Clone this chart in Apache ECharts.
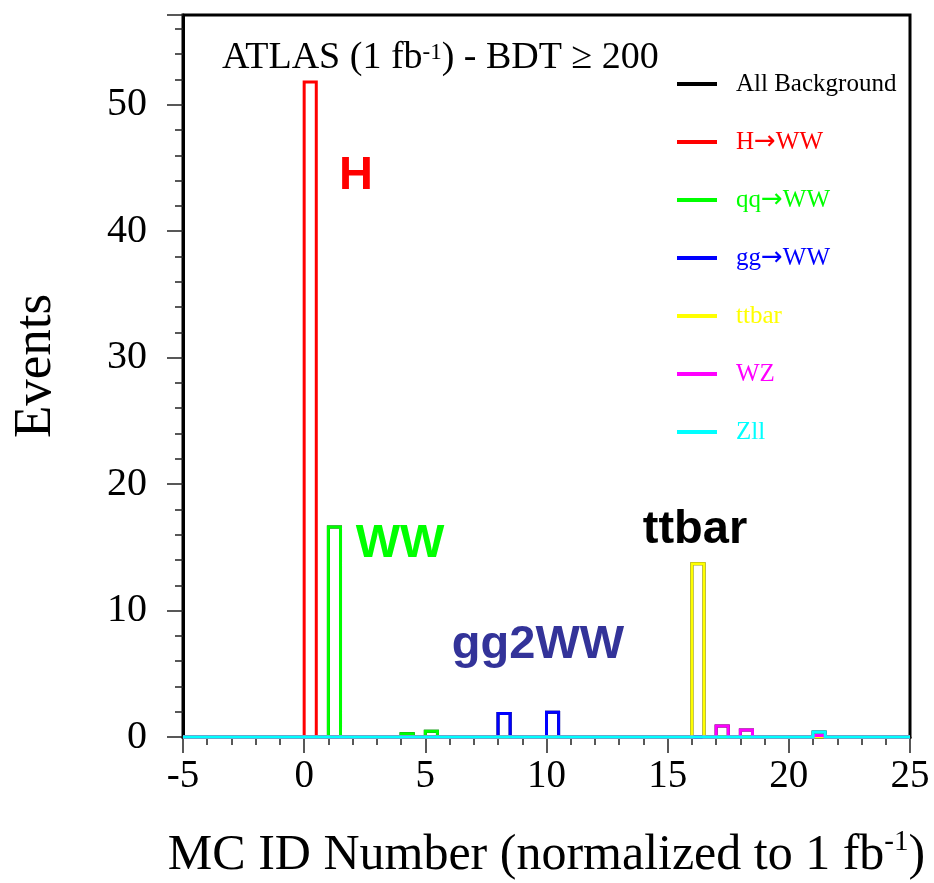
<!DOCTYPE html>
<html>
<head>
<meta charset="utf-8">
<script src="https://cdn.jsdelivr.net/npm/echarts@6/dist/echarts.min.js"></script>
<style>
html,body{margin:0;padding:0;background:#fff;}
#chart{width:934px;height:883px;}
</style>
</head>
<body>
<div id="chart"></div>
<script>
// ---- data (bin start, events) ----
const BIN_WIDTH = 0.5;
const X_MIN = -5, X_MAX = 25;
const yTicks = [0, 10, 20, 30, 40, 50];
const xTicks = [-5, 0, 5, 10, 15, 20, 25];

const seriesNames = ['All Background', 'H\u2192WW', 'qq\u2192WW', 'gg\u2192WW', 'ttbar', 'WZ', 'Zll'];
const seriesColors = ['#000000', '#ff0000', '#00ff00', '#0000ff', '#ffff00', '#ff00ff', '#00ffff'];

const allBackground = [[1, 16.6], [4, 0.26], [5, 0.45], [8, 1.86], [10, 1.96], [16, 13.7], [17, 0.87], [18, 0.55], [21, 0.4]];
const hww   = [[0, 51.8]];
const qqww  = [[1, 16.6], [4, 0.26], [5, 0.45]];
const ggww  = [[8, 1.86], [10, 1.96]];
const ttbar = [[16, 13.7]];
const wz    = [[17, 0.87], [18, 0.55], [21, 0.12]];
const zll   = [[21, 0.4]];

const seriesBins = [allBackground, hww, qqww, ggww, ttbar, wz, zll];

// histogram outline (step) points in data space
function outline(bins) {
  const pts = [[X_MIN, 0]];
  bins.forEach(function (b) {
    const x = b[0], v = b[1];
    pts.push([x, 0], [x, v], [x + BIN_WIDTH, v], [x + BIN_WIDTH, 0]);
  });
  pts.push([X_MAX, 0]);
  return pts;
}

const SERIF = "'Liberation Serif', 'DejaVu Serif', serif";
const SANS = "'Liberation Sans', Arial, sans-serif";

const chart = echarts.init(document.getElementById('chart'));

const series = seriesNames.map(function (name, i) {
  const pts = outline(seriesBins[i]);
  return {
    name: name,
    type: 'custom',
    coordinateSystem: 'cartesian2d',
    data: pts,
    encode: { x: 0, y: 1 },
    itemStyle: { color: seriesColors[i] },
    z: 2 + i,
    animation: false,
    silent: true,
    renderItem: function (params, api) {
      if (params.dataIndex !== 0) return null;
      const points = pts.map(function (p) { return api.coord(p); });
      return {
        type: 'polyline',
        shape: { points: points },
        style: { stroke: seriesColors[i], lineWidth: 3, fill: null, lineJoin: 'miter' }
      };
    }
  };
});

chart.setOption({
  animation: false,
  backgroundColor: '#fff',
  grid: {
    left: 183, right: 24, top: 15, bottom: 146,
    outerBoundsMode: 'none',
    containLabel: false,
    show: true, borderColor: '#000', borderWidth: 3, backgroundColor: 'transparent'
  },
  legend: {
    orient: 'vertical',
    left: 672,
    top: 63,
    icon: 'rect',
    itemWidth: 40,
    itemHeight: 4,
    itemGap: 26,
    selectedMode: false,
    formatter: function (n) { return n.replace('\u2192', '{ar|\u2192}'); },
    textStyle: {
      fontFamily: SERIF, fontSize: 25, lineHeight: 32, padding: [0, 0, 0, 14],
      rich: { ar: { fontFamily: "'DejaVu Sans', sans-serif", fontSize: 26, lineHeight: 32 } }
    },
    data: seriesNames.map(function (n, i) {
      return { name: n, itemStyle: { color: seriesColors[i] }, textStyle: { color: seriesColors[i] } };
    })
  },
  xAxis: {
    type: 'value',
    min: X_MIN, max: X_MAX, interval: 5,
    name: '{a|MC ID Number (normalized to 1 fb}{s|-1}{a|)}',
    nameLocation: 'middle',
    nameGap: 91,
    nameTextStyle: {
      rich: {
        a: { fontFamily: SERIF, fontSize: 50, color: '#000', lineHeight: 56 },
        s: { fontFamily: SERIF, fontSize: 29, color: '#000', verticalAlign: 'top', lineHeight: 28 }
      }
    },
    axisLine: { show: true, onZero: false, lineStyle: { color: '#000', width: 3 } },
    axisTick: { show: true, length: 16, lineStyle: { color: '#222', width: 1.5 } },
    minorTick: { show: true, splitNumber: 5, length: 8, lineStyle: { color: '#222', width: 1.5 } },
    splitLine: { show: false },
    axisLabel: {
      fontFamily: SERIF, fontSize: 39, color: '#000', margin: 20,
      formatter: function (v) { return xTicks.indexOf(v) >= 0 ? String(v) : ''; }
    }
  },
  yAxis: {
    type: 'value',
    min: 0, max: 57.1, interval: 10,
    name: 'Events',
    nameLocation: 'middle',
    nameGap: 120,
    nameTextStyle: { fontFamily: SERIF, fontSize: 53, color: '#000', padding: [0, 0, 0, 20] },
    axisLine: { show: true, onZero: false, lineStyle: { color: '#000', width: 3 } },
    axisTick: { show: true, length: 16, lineStyle: { color: '#222', width: 1.5 } },
    minorTick: { show: true, splitNumber: 5, length: 8, lineStyle: { color: '#222', width: 1.5 } },
    splitLine: { show: false },
    axisLabel: {
      fontFamily: SERIF, fontSize: 40, color: '#000', margin: 36,
      showMaxLabel: false,
      formatter: function (v) { return yTicks.indexOf(v) >= 0 ? String(v) : ''; }
    }
  },
  graphic: [
    {
      type: 'text', left: 222, top: 37, z: 10,
      style: {
        text: '{a|ATLAS (1 fb}{s|-1}{a|) - BDT \u2265 200}',
        rich: {
          a: { fontFamily: SERIF, fontSize: 38, fill: '#000', lineHeight: 42 },
          s: { fontFamily: SERIF, fontSize: 23, fill: '#000', verticalAlign: 'top', lineHeight: 22, padding: [4, 0, 0, 0] }
        }
      }
    },
    { type: 'text', x: 356, y: 176, z: 10,
      style: { text: 'H', font: 'bold 47px ' + SANS, fill: '#ff0000', align: 'center', verticalAlign: 'middle' } },
    { type: 'text', x: 400, y: 544, z: 10,
      style: { text: 'WW', font: 'bold 47px ' + SANS, fill: '#00ff00', align: 'center', verticalAlign: 'middle' } },
    { type: 'text', x: 538, y: 645, z: 10,
      style: { text: 'gg2WW', font: 'bold 47px ' + SANS, fill: '#333399', align: 'center', verticalAlign: 'middle' } },
    { type: 'text', x: 695, y: 530, z: 10,
      style: { text: 'ttbar', font: 'bold 47px ' + SANS, fill: '#000000', align: 'center', verticalAlign: 'middle' } }
  ],
  series: series
});
</script>
</body>
</html>
